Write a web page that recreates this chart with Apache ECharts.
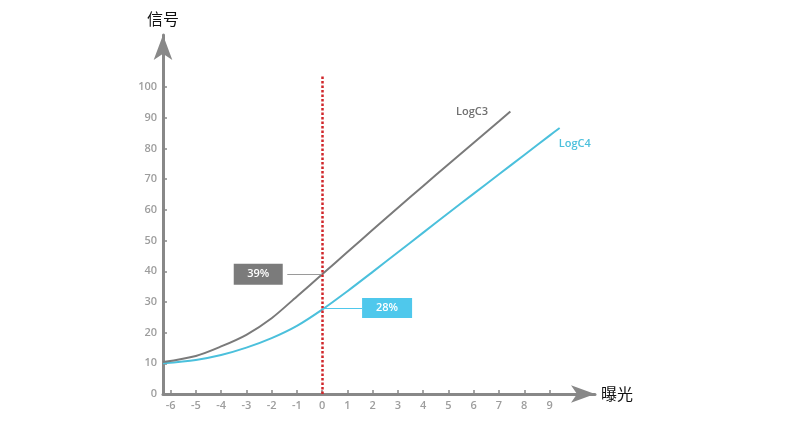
<!DOCTYPE html>
<html>
<head>
  <meta charset="UTF-8">
  <title>LogC</title>
  <style>
  html, body { margin: 0; padding: 0; background: #fff; }
  #chart { width: 795px; height: 438px; }
  </style>
  <script src="https://cdn.jsdelivr.net/npm/echarts@6/dist/echarts.min.js"></script>
</head>
<body>
  <div id="chart"></div>
  <script type="text/javascript">
  // exposure stops (x) and signal (%)
  var logC3X = [-6.3, -5, -4, -3, -2, -1, 0, 1, 2, 3, 4, 5, 6, 7, 7.45];
  var logC3Y = [10.4, 12.4, 15.5, 19.3, 24.7, 31.8, 39, 46.3, 53.5, 60.7, 67.8, 74.9, 81.9, 88.9, 92.1];
  var logC4X = [-6.3, -5, -4, -3, -2, -1, 0, 1, 2, 3, 4, 5, 6, 7, 8, 9, 9.4];
  var logC4Y = [10, 11.1, 12.7, 15.1, 18.2, 22.2, 27.5, 33.5, 39.8, 46.2, 52.6, 59, 65.3, 71.6, 77.9, 84.2, 86.7];
  var xTicks = [-6, -5, -4, -3, -2, -1, 0, 1, 2, 3, 4, 5, 6, 7, 8, 9];
  var yTicks = [0, 10, 20, 30, 40, 50, 60, 70, 80, 90, 100];
  var markC3 = 39;
  var markC4 = 28;

  function pairs(xs, ys) {
    var out = [];
    for (var i = 0; i < xs.length; i++) out.push([xs[i], ys[i]]);
    return out;
  }

  var gray = '#7a7a7a';
  var cyan = '#4bc0dc';
  var boxCyan = '#4fc8ec';
  var tickFont = { color: '#9d9d9d', fontSize: 11, fontWeight: 600, fontFamily: 'Open Sans' };

  var myChart = echarts.init(document.getElementById('chart'));

  var option = {
    animation: false,
    grid: { left: 163, right: 200, top: 35, bottom: 44 },
    xAxis: {
      type: 'value',
      min: -6.3,
      max: 10.8,
      name: '曝光',
      nameLocation: 'end',
      nameGap: 6,
      nameTextStyle: { color: '#111', fontSize: 16, fontFamily: 'Noto Sans CJK SC' },
      splitLine: { show: false },
      axisLine: {
        onZero: false,
        symbol: ['none', 'arrow'],
        symbolSize: [13, 24],
        lineStyle: { color: '#888', width: 3 }
      },
      axisTick: { inside: true, length: 4, customValues: xTicks, lineStyle: { color: '#888', width: 1.5 } },
      axisLabel: Object.assign({ margin: 6, customValues: xTicks }, tickFont)
    },
    yAxis: {
      type: 'value',
      min: 0,
      max: 117,
      name: '信号',
      nameLocation: 'end',
      nameGap: 8,
      nameTextStyle: { color: '#111', fontSize: 16, fontFamily: 'Noto Sans CJK SC' },
      splitLine: { show: false },
      axisLine: {
        show: true,
        onZero: false,
        symbol: ['none', 'arrow'],
        symbolSize: [14, 25],
        lineStyle: { color: '#888', width: 3 }
      },
      axisTick: { show: true, inside: true, length: 4, customValues: yTicks, lineStyle: { color: '#888', width: 1.5 } },
      axisLabel: Object.assign({ margin: 6, customValues: yTicks }, tickFont)
    },
    series: [{
      name: 'LogC3',
      type: 'line',
      smooth: 0.3,
      showSymbol: false,
      data: pairs(logC3X, logC3Y),
      lineStyle: { color: gray, width: 2 },
      itemStyle: { color: gray },
      z: 3,
      markLine: {
        silent: true,
        symbol: ['none', 'none'],
        label: { show: false },
        data: [
          [{ coord: [0, 0], lineStyle: { color: '#d0262a', width: 2.5, type: [2.5, 2] } }, { coord: [0, 103.6] }],
          [{ coord: [-1.38, markC3], lineStyle: { color: '#9a9a9a', width: 1, type: 'solid' } }, { coord: [0, markC3] }],
          [{ coord: [0, markC4], lineStyle: { color: boxCyan, width: 1, type: 'solid' } }, { coord: [1.58, markC4] }]
        ]
      },
      markPoint: {
        silent: true,
        data: [
          {
            coord: [-2.53, markC3], symbol: 'rect', symbolSize: [49, 21],
            itemStyle: { color: '#7b7b7b' },
            label: { show: true, position: 'inside', formatter: markC3 + '%', color: '#fff', fontSize: 11, fontWeight: 600, fontFamily: 'Open Sans' }
          },
          {
            coord: [2.57, markC4], symbol: 'rect', symbolSize: [50, 20],
            itemStyle: { color: boxCyan },
            label: { show: true, position: 'inside', formatter: markC4 + '%', color: '#fff', fontSize: 11, fontWeight: 600, fontFamily: 'Open Sans' }
          },
          {
            coord: [5.93, 91.8], symbol: 'circle', symbolSize: 0,
            label: { show: true, position: 'inside', formatter: 'LogC3', color: '#6f6f6f', fontSize: 11, fontWeight: 600, fontFamily: 'Open Sans' }
          }
        ]
      }
    }, {
      name: 'LogC4',
      type: 'line',
      smooth: 0.3,
      showSymbol: false,
      data: pairs(logC4X, logC4Y),
      lineStyle: { color: cyan, width: 2 },
      itemStyle: { color: cyan },
      z: 2,
      markPoint: {
        silent: true,
        data: [{
          coord: [10.0, 81.4], symbol: 'circle', symbolSize: 0,
          label: { show: true, position: 'inside', formatter: 'LogC4', color: cyan, fontSize: 11, fontWeight: 600, fontFamily: 'Open Sans' }
        }]
      }
    }]
  };
  myChart.setOption(option);
  </script>
</body>
</html>
